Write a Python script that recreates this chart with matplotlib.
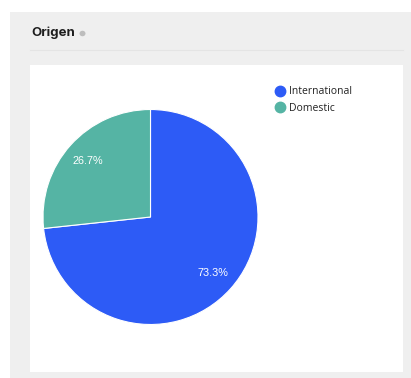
import matplotlib
matplotlib.use("Agg")
import matplotlib.pyplot as plt
from matplotlib.patches import Rectangle, Circle
from matplotlib.lines import Line2D

categories = ["International", "Domestic"]
values = [73.3, 26.7]
colors = ["#2D5BF6", "#55B4A4"]
title = "Origen"

W, H = 411, 378
fig = plt.figure(figsize=(W / 100, H / 100), dpi=100)
fig.patch.set_facecolor("white")

def px(x, y, w, h):
    return (x / W, 1 - (y + h) / H, w / W, h / H)

# gray panel
x0, y0, w0, h0 = px(10, 12, 401, 366)
fig.add_artist(Rectangle((x0, y0), w0, h0, transform=fig.transFigure,
                         facecolor="#EFEFEF", edgecolor="none", zorder=-3))
# separator line
fig.add_artist(Line2D([30 / W, 403 / W], [1 - 50 / H, 1 - 50 / H],
                      transform=fig.transFigure, color="#E4E4E4", lw=0.8, zorder=-2))
# white card
x1, y1, w1, h1 = px(30, 65, 373, 307)
fig.add_artist(Rectangle((x1, y1), w1, h1, transform=fig.transFigure,
                         facecolor="white", edgecolor="none", zorder=-2))

# title
fig.text(31 / W, 1 - 33 / H, title, fontsize=9.5, fontweight="bold",
         family=["Inter", "DejaVu Sans"], color="#1E1E1E", va="center", ha="left")
fig.add_artist(Circle((82.5 / W, 1 - 33.5 / H), 3 / W, transform=fig.transFigure,
                      facecolor="#BDBDBD", edgecolor="none"))

# pie
cx, cy, r = 150.5, 217, 107.5
ax = fig.add_axes(px(cx - r, cy - r, 2 * r, 2 * r), zorder=5)
ax.patch.set_alpha(0)
wedges, texts, autotexts = ax.pie(values, colors=colors, startangle=90, counterclock=False,
                                  autopct="%1.1f%%", pctdistance=0.78, radius=1,
                                  wedgeprops=dict(edgecolor="white", linewidth=0.8))
for t in autotexts:
    t.set_color("white")
    t.set_fontsize(7.8)
    t.set_family(["Liberation Sans", "DejaVu Sans"])
ax.set_xlim(-1, 1)
ax.set_ylim(-1, 1)
ax.set_aspect("equal")
ax.axis("off")

handles = [Line2D([], [], marker="o", linestyle="none", markersize=7.5,
                  markerfacecolor=c, markeredgecolor=c) for c in colors]
fig.legend(handles, categories, loc="upper left", bbox_to_anchor=(267 / W, 1 - 81 / H),
           frameon=False, prop={"family": ["Open Sans", "DejaVu Sans"], "size": 7.5},
           handletextpad=0.1, labelspacing=0.55, borderpad=0, handlelength=1.5,
           labelcolor="#222222")

fig.savefig("out.png", dpi=100)
